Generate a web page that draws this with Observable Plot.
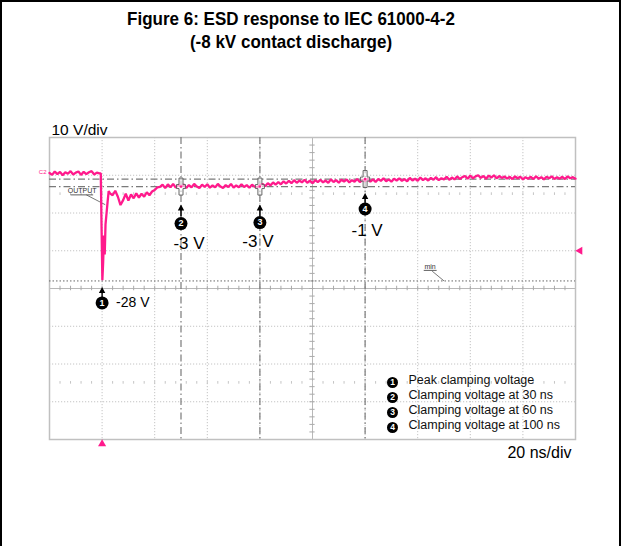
<!DOCTYPE html>
<html>
<head>
<meta charset="utf-8">
<script src="https://cdn.jsdelivr.net/npm/d3@7"></script>
<script src="https://cdn.jsdelivr.net/npm/@observablehq/plot@0.6"></script>
<style>
  html, body { margin: 0; padding: 0; background: #fff; }
  #page { position: relative; width: 621px; height: 546px; overflow: hidden; font-family: "Liberation Sans", Arial, sans-serif; }
  #border { position: absolute; left: 0; top: 0; width: 617px; height: 560px; border: 2px solid #000; pointer-events: none; }
  #title { position: absolute; left: 0; top: 7px; width: 582px; text-align: center; font-weight: bold; font-size: 17px; line-height: 21px; color: #000; transform: scaleY(1.12); transform-origin: 50% 0; }
  #chart { position: absolute; left: 0; top: 110px; }
  #legend { position: absolute; left: 387px; top: 373px; font-size: 12.5px; line-height: 14.5px; color: #111; }
  #legend .num { display: inline-block; width: 11px; height: 11px; border-radius: 50%; background: #000; color: #fff; font-size: 8.5px; font-weight: bold; text-align: center; line-height: 11px; margin-right: 10.5px; vertical-align: -1px; }
</style>
</head>
<body>
<div id="page">
  <div id="title"></div>
  <div id="chart"></div>
  <div id="legend"></div>
  <div id="border"></div>
</div>
<script>
// ---------------- data ----------------
const titleLines = ["Figure 6: ESD response to IEC 61000-4-2", "(-8 kV contact discharge)"];
const yDivLabel = "10 V/div";
const xDivLabel = "20 ns/div";
const timeGrid = [-20, 0, 20, 40, 60, 80, 100, 120, 140, 160, 180]; // ns
const voltGrid = [10, 0, -10, -20, -30, -40, -50, -60, -70];       // V

// scope samples, 1 ns apart, t = -20 .. -1 ns (volts)
const preTriggerV = [0.6, 0.1, 1.0, 0.3, 0.9, 0.0, 0.8, 0.4, 1.1, 0.2,
                     0.7, 1.0, 0.1, 0.9, 0.3, 0.8, 1.1, 0.2, 0.7, 0.5];
// discharge spike (t in ns, volts)
const spikeT = [-0.5, -0.2, 0.1, 0.4, 0.7, 1.0, 1.3, 1.7, 2.1, 2.5];
const spikeV = [0.5, -14, -27.8, -23, -16, -21, -13, -10, -7, -4.2];
// scope samples, 1 ns apart, t = 3 .. 180 ns (volts)
const postV = [
  -4.8,-5.3,-4.1,-5.7,-7.9,-6.6,-4.9,-6.7,-5.1,-6.1,
  -4.8,-5.9,-4.9,-5.7,-4.5,-5.3,-4.3,-3.9,-3.2,-3.1,
  -2.5,-3.4,-2.4,-3.2,-2.3,-3.3,-2.5,-3.1,-2.4,-3.4,
  -2.6,-3.2,-2.3,-3.0,-3.4,-2.5,-3.1,-2.4,-3.3,-2.7,
  -3.2,-2.3,-3.0,-3.4,-2.6,-3.1,-2.3,-3.3,-2.7,-3.2,
  -2.4,-3.1,-2.6,-3.3,-2.5,-3.0,-3.2,-2.6,-2.3,-2.9,
  -2.1,-2.7,-1.9,-2.5,-1.8,-2.4,-1.6,-2.2,-1.5,-2.1,
  -1.3,-2.0,-1.4,-1.9,-1.2,-2.0,-1.4,-2.1,-1.3,-1.8,
  -1.2,-1.9,-1.4,-2.0,-1.1,-1.8,-1.3,-2.0,-1.2,-1.7,
  -1.1,-1.9,-1.3,-1.7,-1.0,-1.8,-1.2,-1.6,-0.9,-1.7,
  -1.1,-1.8,-1.0,-1.5,-0.8,-1.6,-1.1,-1.7,-0.9,-1.4,
  -0.8,-1.5,-1.0,-1.6,-0.7,-1.4,-0.9,-1.5,-0.6,-1.3,
  -0.8,-1.4,-0.7,-1.2,-0.5,-1.3,-0.8,-1.1,-0.4,-1.2,
  -0.6,-1.1,-0.3,-1.0,-0.5,-0.2,-0.9,-0.1,-0.8,-0.3,
   0.0,-0.7,-0.2,-0.9,-0.1,-0.6, 0.0,-0.8,-0.2,-0.7,
  -0.3,-0.9,-0.4,-1.0,-0.3,-0.8,-0.4,-1.1,-0.5,-0.9,
  -0.4,-1.0,-0.3,-0.9,-0.5,-1.1,-0.4,-0.8,-0.3,-1.0,
  -0.5,-0.9,-0.4,-1.0,-0.3,-0.8,-0.5,-0.9];
const preStartNs = -20, postStartNs = 3, sampleNs = 1;

const markerNum = [1, 2, 3, 4];
const markerT = [0, 30, 60, 100];     // ns
const markerV = [-28, -3, -3, -1];    // V
const legendLabels = ["Peak clamping voltage", "Clamping voltage at 30 ns", "Clamping voltage at 60 ns", "Clamping voltage at 100 ns"];
const cursorT = [30, 60, 100];
const cursorV = [-1, -3];
const minLineV = -28;
const triggerLevelV = -20;

// ---------------- build ----------------
document.getElementById("title").innerHTML = titleLines.join("<br>");
d3.select("#legend").selectAll("div").data(legendLabels).join("div")
  .html((d, i) => `<span class="num">${markerNum[i]}</span>${d}`);

const trace = [
  ...preTriggerV.map((v, i) => ({t: preStartNs + i * sampleNs, v})),
  ...spikeT.map((t, i) => ({t, v: spikeV[i]})),
  ...postV.map((v, i) => ({t: postStartNs + i * sampleNs, v}))
];
const markers = markerNum.map((n, i) => ({n, t: markerT[i], v: markerV[i]}));
const cursorPts = markers.slice(1);

const minorT = d3.range(timeGrid[0], timeGrid[timeGrid.length - 1] + 0.01, 4);
const minorV = d3.range(voltGrid[voltGrid.length - 1], voltGrid[0] + 0.01, 2);
const centerT = 80, centerV = -30;

const pink = "#ff1a8c";
const plusOutline = {draw(c) {
  c.moveTo(-2, -8.5); c.lineTo(2, -8.5); c.lineTo(2, -2); c.lineTo(4.5, -2); c.lineTo(4.5, 2);
  c.lineTo(2, 2); c.lineTo(2, 8.5); c.lineTo(-2, 8.5); c.lineTo(-2, 2); c.lineTo(-4.5, 2);
  c.lineTo(-4.5, -2); c.lineTo(-2, -2); c.closePath();
}};
const arrowUp = L => ({draw(c) {
  c.moveTo(0, 0); c.lineTo(3.2, 6); c.lineTo(-3.2, 6); c.closePath();
  c.moveTo(-0.7, 5); c.lineTo(0.7, 5); c.lineTo(0.7, L); c.lineTo(-0.7, L); c.closePath();
}});

// annotation layout (pixels relative to the measured point)
const layout = [
  {tip: 6,  len: 10, circ: 22, dx: 14, dy: 26, anchor: "start", fs: 14},
  {tip: 18, len: 12, circ: 37, dx: 8,  dy: 62, anchor: "middle", fs: 17},
  {tip: 18, len: 12, circ: 36, dx: -2, dy: 60, anchor: "middle", fs: 17},
  {tip: 14, len: 10, circ: 30, dx: 2,  dy: 57, anchor: "middle", fs: 17}
];

const annoMarks = markers.flatMap((d, i) => {
  const L = layout[i];
  return [
    Plot.dot([d], {x: "t", y: "v", symbol: arrowUp(L.len), r: 4, fill: "#000", stroke: "none", dy: L.tip}),
    Plot.dot([d], {x: "t", y: "v", r: 6.5, fill: "#000", stroke: "none", dy: L.circ}),
    Plot.text([d], {x: "t", y: "v", text: "n", fill: "#fff", fontSize: 9, fontWeight: "bold", dy: L.circ}),
    Plot.text([d], {x: "t", y: "v", text: p => `${p.v} V`, fill: "#000", fontSize: L.fs, textAnchor: L.anchor, lineAnchor: "bottom", dx: L.dx, dy: L.dy})
  ];
});

const dashDot = "7,3,1.5,3";
const chart = Plot.plot({
  width: 621, height: 360,
  marginLeft: 49, marginRight: 46, marginTop: 27, marginBottom: 31,
  x: {domain: [timeGrid[0], timeGrid[timeGrid.length - 1]], axis: null},
  y: {domain: [voltGrid[voltGrid.length - 1], voltGrid[0]], axis: null},
  style: {background: "transparent", overflow: "visible", fontFamily: "'Liberation Sans', Arial, sans-serif"},
  marks: [
    Plot.ruleX(timeGrid.slice(1, -1), {stroke: "#c4c4c4", strokeDasharray: "1.2,1.8"}),
    Plot.ruleY(voltGrid.slice(1, -1), {stroke: "#c4c4c4", strokeDasharray: "1.2,1.8"}),
    Plot.ruleY([centerV], {stroke: "#b8b8b8", strokeWidth: 1}),
    Plot.ruleX([centerT], {stroke: "#b8b8b8", strokeWidth: 1}),
    Plot.ruleX(minorT, {y1: centerV - 0.6, y2: centerV + 0.6, stroke: "#aaa"}),
    Plot.ruleY(minorV, {x1: centerT - 1, x2: centerT + 1, stroke: "#aaa"}),
    Plot.ruleX(minorT, {y1: centerV + 25 - 0.35, y2: centerV + 25 + 0.35, stroke: "#c4c4c4"}),
    Plot.ruleX(minorT, {y1: centerV - 25 - 0.35, y2: centerV - 25 + 0.35, stroke: "#c4c4c4"}),
    Plot.frame({stroke: "#c0c0c0", strokeWidth: 1.5}),
    Plot.ruleY([minLineV], {stroke: "#666", strokeDasharray: "1.5,2"}),
    Plot.ruleX(cursorT, {stroke: "#7a7a7a", strokeDasharray: dashDot, strokeWidth: 1.2}),
    Plot.ruleY(cursorV, {stroke: "#7a7a7a", strokeDasharray: dashDot, strokeWidth: 1.2}),
    // labels on the screen
    Plot.text(["OUTPUT"], {x: -7.6, y: -4.2, text: d => d, fontSize: 7, fill: "#333"}),
    Plot.link([0], {x1: -12.0, y1: -5.2, x2: -3.4, y2: -5.2, stroke: "#333", strokeWidth: 0.8}),
    Plot.link([0], {x1: -6.0, y1: -5.2, x2: 1.2, y2: -7.8, stroke: "#555", strokeWidth: 0.8}),
    Plot.text(["min"], {x: 124.7, y: -24.2, text: d => d, fontSize: 7, fill: "#333"}),
    Plot.link([0], {x1: 122.3, y1: -25.2, x2: 127.2, y2: -25.2, stroke: "#333", strokeWidth: 0.8}),
    Plot.link([0], {x1: 125.5, y1: -25.4, x2: 130.0, y2: -28.0, stroke: "#555", strokeWidth: 0.8}),
    Plot.text(["C2"], {x: timeGrid[0], y: 0.8, text: d => d, fontSize: 6, fill: pink, textAnchor: "end", dx: -3}),
    // trace
    Plot.line(trace, {x: "t", y: "v", stroke: pink, strokeWidth: 2.3, strokeLinejoin: "bevel", curve: "linear"}),
    // cursor crosses
    Plot.dot(cursorPts, {x: "t", y: "v", symbol: plusOutline, r: 5, stroke: "#666", strokeWidth: 1, fill: "#fff", fillOpacity: 0.55}),
    Plot.dot(cursorPts, {x: "t", y: "v", r: 1.2, fill: pink, stroke: "none"}),
    // trigger position / level markers
    Plot.dot([0], {x: 0, y: voltGrid[voltGrid.length - 1], symbol: "triangle", r: 3, fill: pink, stroke: "none", dy: 4.5}),
    Plot.dot([0], {x: timeGrid[timeGrid.length - 1], y: triggerLevelV, symbol: "triangle", rotate: -90, r: 3, fill: pink, stroke: "none", dx: 4.5}),
    ...annoMarks,
    Plot.text([yDivLabel], {frameAnchor: "top-left", text: d => d, fontSize: 15.5, textAnchor: "start", lineAnchor: "bottom", dx: 2, dy: -3, fill: "#000"}),
    Plot.text([xDivLabel], {frameAnchor: "bottom-right", text: d => d, fontSize: 16, textAnchor: "end", lineAnchor: "top", dx: -4, dy: 7, fill: "#000"})
  ]
});
document.getElementById("chart").appendChild(chart);
</script>
</body>
</html>
